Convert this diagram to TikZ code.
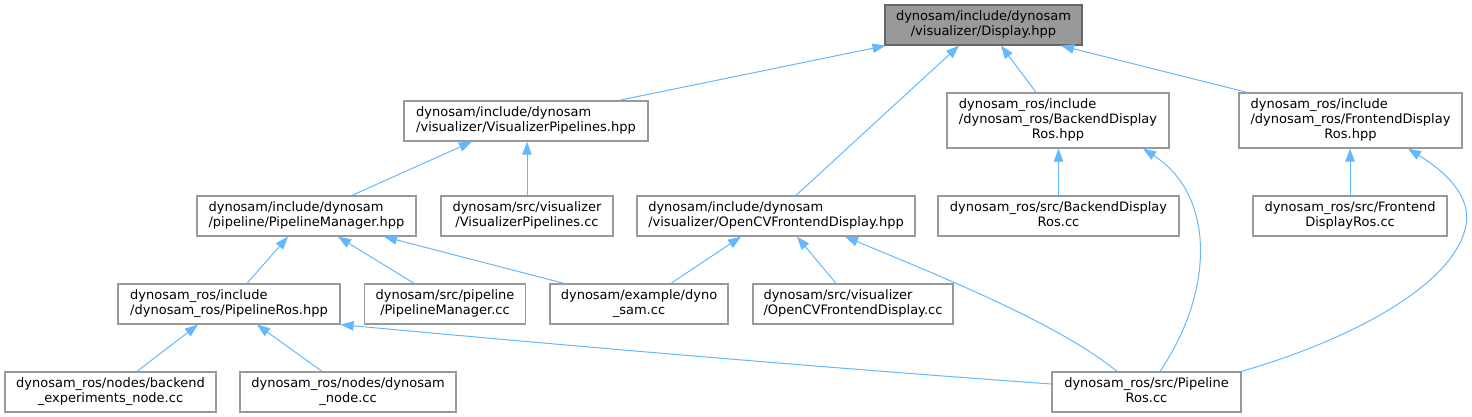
\documentclass[tikz,border=0pt]{standalone}
\usepackage{fontspec}
\setmainfont{DejaVu Sans}
\usetikzlibrary{arrows.meta}
\definecolor{boxgray}{HTML}{999999}
\definecolor{rootfill}{HTML}{999999}
\definecolor{rootline}{HTML}{666666}
\definecolor{edgeblue}{HTML}{63B8FF}
\newcommand{\lbB}[2]{\begin{tabular}{@{}l@{}}#1\\\multicolumn{1}{@{}c@{}}{#2}\end{tabular}}
\newcommand{\lbC}[3]{\begin{tabular}{@{}l@{}}#1\\#2\\\multicolumn{1}{@{}c@{}}{#3}\end{tabular}}
\begin{document}
\begin{tikzpicture}[x=1pt,y=-1pt,
  filebox/.style={draw=boxgray, line width=1.3pt, fill=white, inner sep=0pt,
    minimum height=40pt, font=\fontsize{13}{15}\selectfont, text=black},
  tallbox/.style={filebox, minimum height=55pt},
  rootbox/.style={filebox, fill=rootfill, draw=rootline},
  edge/.style={draw=edgeblue, line width=1pt, -{Triangle[length=13pt,width=9.5pt]}}]
\useasboundingbox (0,0) rectangle (1472,417);
% row 1
\node[rootbox, minimum width=197pt] (disp) at (983.5,25) {\lbB{dynosam/include/dynosam}{/visualizer/Display.hpp}};
% row 2
\node[filebox, minimum width=244pt] (vph) at (526,121) {\lbB{dynosam/include/dynosam}{/visualizer/VisualizerPipelines.hpp}};
\node[tallbox, minimum width=222pt] (bdrh) at (1058,120.5) {\lbC{dynosam\_ros/include}{/dynosam\_ros/BackendDisplay}{Ros.hpp}};
\node[tallbox, minimum width=223pt] (fdrh) at (1350.5,120.5) {\lbC{dynosam\_ros/include}{/dynosam\_ros/FrontendDisplay}{Ros.hpp}};
% row 3
\node[filebox, minimum width=219pt] (pmh) at (306.5,216) {\lbB{dynosam/include/dynosam}{/pipeline/PipelineManager.hpp}};
\node[filebox, minimum width=172pt] (vpcc) at (527,216) {\lbB{dynosam/src/visualizer}{/VisualizerPipelines.cc}};
\node[filebox, minimum width=278pt] (ocvh) at (776,216) {\lbB{dynosam/include/dynosam}{/visualizer/OpenCVFrontendDisplay.hpp}};
\node[filebox, minimum width=241pt] (bdrcc) at (1058.5,216) {\lbB{dynosam\_ros/src/BackendDisplay}{Ros.cc}};
\node[filebox, minimum width=194pt] (fdrcc) at (1350,216) {\lbB{dynosam\_ros/src/Frontend}{DisplayRos.cc}};
% row 4
\node[filebox, minimum width=222pt] (prh) at (229,304) {\lbB{dynosam\_ros/include}{/dynosam\_ros/PipelineRos.hpp}};
\node[filebox, minimum width=161pt] (pmcc) at (445,304) {\lbB{dynosam/src/pipeline}{/PipelineManager.cc}};
\node[filebox, minimum width=178pt] (dyno) at (639,304) {\lbB{dynosam/example/dyno}{\_sam.cc}};
\node[filebox, minimum width=200pt] (ocvcc) at (853,304) {\lbB{dynosam/src/visualizer}{/OpenCVFrontendDisplay.cc}};
% row 5
\node[filebox, minimum width=211pt] (bexp) at (110.5,392) {\lbB{dynosam\_ros/nodes/backend}{\_experiments\_node.cc}};
\node[filebox, minimum width=216pt] (dnode) at (348,392) {\lbB{dynosam\_ros/nodes/dynosam}{\_node.cc}};
\node[filebox, minimum width=189pt] (prcc) at (1146.5,392) {\lbB{dynosam\_ros/src/Pipeline}{Ros.cc}};
% edges (child -> included file)
\draw[edge] ([xshift=93pt]vph.north) -- ([xshift=-98pt]disp.south);
\draw[edge] ([xshift=20pt]ocvh.north) -- ([xshift=-24.5pt]disp.south);
\draw[edge] ([xshift=-22pt]bdrh.north) -- ([xshift=17.5pt]disp.south);
\draw[edge] ([xshift=-103.5pt]fdrh.north) -- ([xshift=77.5pt]disp.south);
\draw[edge] ([xshift=45.5pt]pmh.north) -- ([xshift=-54pt]vph.south);
\draw[edge] (vpcc.north) -- (vpcc.north |- vph.south);
\draw[edge] (bdrcc.north) -- (bdrcc.north |- bdrh.south);
\draw[edge] (fdrcc.north) -- (fdrcc.north |- fdrh.south);
\draw[edge] ([xshift=13.5pt]prcc.north) .. controls (1215,290) and (1215,195) .. ([xshift=85pt]bdrh.south);
\draw[edge] (prcc.north east) .. controls (1350,340) and (1455,285) .. (1466,225) .. controls (1471,198) and (1449,174) .. ([xshift=57.5pt]fdrh.south);
\draw[edge] ([xshift=-29.5pt]prcc.north) .. controls (1060,325) and (950,280) .. ([xshift=69pt]ocvh.south);
\draw[edge] ([xshift=32pt]dyno.north) -- ([xshift=-35pt]ocvh.south);
\draw[edge] ([xshift=-17pt]ocvcc.north) -- ([xshift=21pt]ocvh.south);
\draw[edge] ([xshift=-31pt]pmcc.north) -- ([xshift=31.5pt]pmh.south);
\draw[edge] ([xshift=-75pt]dyno.north) -- ([xshift=77.5pt]pmh.south);
\draw[edge] ([xshift=18pt]prh.north) -- ([xshift=-18.5pt]pmh.south);
\draw[edge] ([xshift=26.5pt]bexp.north) -- ([xshift=-31pt]prh.south);
\draw[edge] ([xshift=-26pt]dnode.north) -- ([xshift=28pt]prh.south);
\draw[edge] ([yshift=8pt]prcc.west) .. controls (800,366) and (550,344) .. (prh.south east);
\end{tikzpicture}
\end{document}
